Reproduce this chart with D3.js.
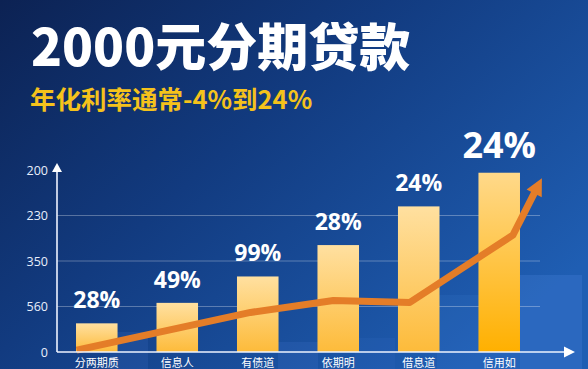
<!DOCTYPE html>
<html><head><meta charset="utf-8">
<script src="https://cdn.jsdelivr.net/npm/d3@7"></script>
<style>html,body{margin:0;padding:0;background:#0b2150;overflow:hidden}svg{display:block}</style>
</head><body>
<script>
const title = "2000元分期贷款";
const subtitle = "年化利率通常-4%到24%";
const categories = ["分两期质","信息人","有债道","依期明","借息道","信用如"];
const barValues = [0.63, 1.08, 1.66, 2.35, 3.2, 3.94];
const barLabels = ["28%","49%","99%","28%","24%","24%"];
const tickValues = [0, 1, 2, 3, 4];
const tickLabels = ["0","560","350","230","200"];
const lineIdx = [-0.25, 1.91, 2.94, 3.89, 5.17, 5.53];
const lineVals = [0.04, 0.87, 1.13, 1.09, 2.57, 3.82];

const W = 588, H = 369;
const svg = d3.select("body").append("svg").attr("width", W).attr("height", H);
const defs = svg.append("defs");
const bg = defs.append("linearGradient").attr("id","bg").attr("x1",0).attr("y1",0).attr("x2",1).attr("y2",0.7);
bg.append("stop").attr("offset",0).attr("stop-color","#0c2253");
bg.append("stop").attr("offset",0.45).attr("stop-color","#123b80");
bg.append("stop").attr("offset",1).attr("stop-color","#1f5eb3");
const bar = defs.append("linearGradient").attr("id","bar").attr("x1",0).attr("y1",0).attr("x2",0).attr("y2",1);
bar.append("stop").attr("offset",0).attr("stop-color","#ffe0a0");
bar.append("stop").attr("offset",1).attr("stop-color","#fdbb3a");
const bar6 = defs.append("linearGradient").attr("id","bar6").attr("x1",0).attr("y1",0).attr("x2",0).attr("y2",1);
bar6.append("stop").attr("offset",0).attr("stop-color","#ffd98a");
bar6.append("stop").attr("offset",1).attr("stop-color","#ffb000");

svg.append("rect").attr("width",W).attr("height",H).attr("fill","url(#bg)");

// decorative background panels
const deco = [[520,275,62,94,0.16],[437,295,83,74,0.08],[110,332,38,37,0.1],[278,342,40,27,0.1],[355,338,40,31,0.06]];
svg.selectAll("rect.deco").data(deco).join("rect").attr("class","deco")
  .attr("x",d=>d[0]).attr("y",d=>d[1]).attr("width",d=>d[2]).attr("height",d=>d[3])
  .attr("fill","#6aa0ff").attr("opacity",d=>d[4]);

svg.append("text").attr("x",31).attr("y",66).text(title)
  .attr("fill","#fff").attr("font-family","Noto Sans CJK SC").attr("font-weight",900)
  .attr("font-size",51);
svg.append("text").attr("x",30).attr("y",109).text(subtitle)
  .attr("fill","#f5c21b").attr("font-family","Noto Sans CJK SC").attr("font-weight",700)
  .attr("font-size",25.5);

const y = d3.scaleLinear().domain([0,4]).range([352,170]);
const x = d3.scaleBand().domain(categories).range([57.5,538.5]).paddingInner(0.484).paddingOuter(0.23);
const xc = d3.scaleLinear().domain([0,5]).range([x(categories[0])+x.bandwidth()/2, x(categories[5])+x.bandwidth()/2]);

// grid
svg.selectAll("line.grid").data(tickValues.filter(v=>v>0&&v<4)).join("line").attr("class","grid")
  .attr("x1",57).attr("x2",540).attr("y1",d=>y(d)).attr("y2",d=>y(d))
  .attr("stroke","#ffffff").attr("stroke-opacity",0.3).attr("stroke-width",1.2);

// y axis
const yAxis = d3.axisLeft(y).tickValues(tickValues).tickFormat((d,i)=>tickLabels[i]).tickSize(0).tickPadding(9);
const ya = svg.append("g").attr("transform","translate(57,0)").call(yAxis);
ya.select(".domain").remove();
ya.selectAll("text").attr("fill","#e8eefb").attr("font-family","Open Sans").attr("font-size",12.5);
svg.append("line").attr("x1",57).attr("x2",57).attr("y1",352).attr("y2",170).attr("stroke","#eef3ff").attr("stroke-width",1.6);
svg.append("path").attr("d","M57,163 L52,172 L62,172 Z").attr("fill","#fff");

// bars
svg.selectAll("rect.bar").data(barValues).join("rect").attr("class","bar")
  .attr("x",(d,i)=>x(categories[i])).attr("width",x.bandwidth())
  .attr("y",d=>y(d)).attr("height",d=>y(0)-y(d))
  .attr("fill",(d,i)=>i===5?"url(#bar6)":"url(#bar)");

// labels
svg.selectAll("text.lab").data(barValues).join("text").attr("class","lab")
  .attr("x",(d,i)=>x(categories[i])+x.bandwidth()/2).attr("y",d=>y(d)-15)
  .attr("text-anchor","middle").attr("fill","#fff").attr("font-family","Open Sans").attr("font-weight",700)
  .attr("font-size",(d,i)=>i===5?36:23).text((d,i)=>barLabels[i]);

// trend line
const pts = lineIdx.map((v,i)=>[xc(v), y(lineVals[i])]);
const n = pts.length;
const [tx,ty] = pts[n-1], [px,py] = pts[n-2];
const ang = Math.atan2(ty-py, tx-px);
const L = 17, Wd = 8.5;
const bx = tx - L*Math.cos(ang), by = ty - L*Math.sin(ang);
const shaft = pts.slice(0, n-1).concat([[bx + 2*Math.cos(ang), by + 2*Math.sin(ang)]]);
svg.append("path").attr("d",d3.line()(shaft)).attr("fill","none").attr("stroke","#e47d28")
  .attr("stroke-width",7).attr("stroke-linejoin","round");
const head = [[tx,ty],[bx + Wd*Math.sin(ang), by - Wd*Math.cos(ang)],[bx - Wd*Math.sin(ang), by + Wd*Math.cos(ang)]];
svg.append("path").attr("d","M"+head.map(p=>p.join(",")).join("L")+"Z").attr("fill","#e47d28");

// x axis
svg.append("line").attr("x1",57).attr("x2",566).attr("y1",352).attr("y2",352).attr("stroke","#eef3ff").attr("stroke-width",1.6);
svg.append("path").attr("d","M575,352 L564,346.5 L564,357.5 Z").attr("fill","#fff");
svg.selectAll("text.cat").data(categories).join("text").attr("class","cat")
  .attr("x",d=>x(d)+x.bandwidth()/2).attr("y",367).attr("text-anchor","middle")
  .attr("fill","#fff").attr("font-family","Noto Sans CJK SC").attr("font-size",11).text(d=>d);
</script>
</body></html>
